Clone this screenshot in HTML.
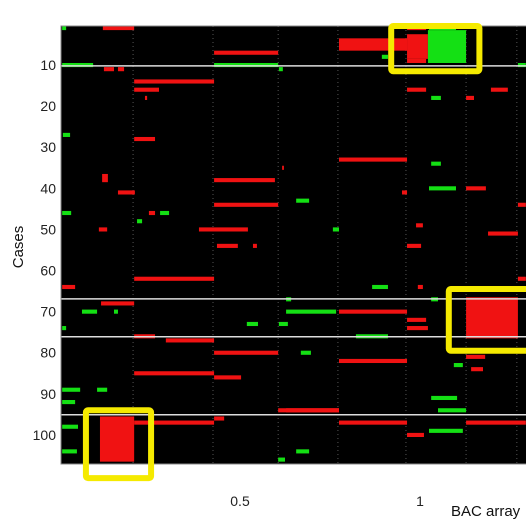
<!DOCTYPE html>
<html><head><meta charset="utf-8"><style>
html,body{margin:0;padding:0;background:#fff;width:526px;height:526px;overflow:hidden}
svg{display:block}
text{font-family:"Liberation Sans",sans-serif}
</style></head><body>
<svg id="chart" width="526" height="526" viewBox="0 0 526 526"></svg>
<script>
// data: segments (row start, row end, x start, x end in BAC-array units, color)
const rowStart = [1,1,7,10,10,11,11,11,14,16,18,27,28,35,37,38,41,44,46,46,46,48,50,50,54,54,
  1,1,4,3,2,8,9,10,16,16,18,18,33,34,40,40,41,43,44,50,49,51,54,
  62,64,68,70,70,73,73,74,76,77,80,85,86,89,89,92,94,96,96,97,98,104,106,
  64,64,67,67,70,70,67,62,72,74,76,80,82,83,84,81,91,94,94,97,97,100,99,104];
const rowEnd = [1,1,7,10,10,11,11,11,14,16,18,27,28,35,38,38,41,44,46,46,46,48,50,50,54,54,
  1,1,6,8,9,8,9,10,16,16,18,18,33,34,40,40,41,43,44,50,49,51,54,
  62,64,68,70,70,73,73,74,76,77,80,85,86,89,89,92,94,96,106,97,98,104,106,
  64,64,67,67,70,70,76,62,72,74,76,80,82,83,84,81,91,94,94,97,97,100,99,104];
const xStart = [0.006,0.119,0.428,0.006,0.428,0.608,0.122,0.161,0.206,0.206,0.236,0.008,0.206,0.617,0.117,0.428,0.161,0.428,0.006,0.247,0.278,0.214,0.108,0.386,0.436,0.536,
  0.964,1.025,0.775,0.964,1.022,0.894,0.964,1.272,0.964,1.197,1.031,1.128,0.775,1.031,1.025,1.128,0.950,0.656,1.272,0.758,0.989,1.189,0.964,
  0.206,0.006,0.114,0.061,0.150,0.519,0.608,0.006,0.206,0.294,0.428,0.206,0.428,0.006,0.103,0.006,0.606,0.428,0.111,0.206,0.006,0.006,0.606,
  0.867,0.994,0.628,1.031,0.628,0.775,1.128,1.272,0.964,0.964,0.822,0.669,0.775,1.094,1.142,1.128,1.031,1.050,0.628,0.775,1.128,0.964,1.025,0.656];
const xEnd = [0.017,0.206,0.606,0.092,0.606,0.619,0.150,0.178,0.428,0.275,0.242,0.028,0.264,0.622,0.133,0.597,0.208,0.606,0.031,0.264,0.303,0.228,0.131,0.522,0.494,0.547,
  1.017,1.100,0.964,1.022,1.128,0.911,1.017,1.294,1.017,1.244,1.058,1.150,0.964,1.058,1.100,1.183,0.964,0.692,1.294,0.775,1.008,1.272,1.003,
  0.428,0.042,0.206,0.103,0.161,0.550,0.633,0.017,0.264,0.428,0.606,0.428,0.503,0.056,0.131,0.042,0.775,0.456,0.206,0.428,0.050,0.047,0.625,
  0.911,1.008,0.642,1.050,0.767,0.964,1.272,1.294,1.017,1.022,0.911,0.697,0.964,1.119,1.175,1.181,1.103,1.128,0.775,0.964,1.294,1.011,1.119,0.692];
const segColor = ['g','r','r','g','g','g','r','r','r','r','r','g','r','r','r','r','r','r','g','r','g','g','r','r','r','r',
  'r','g','r','r','g','g','r','g','r','r','g','r','r','g','g','r','r','g','r','g','r','r','r',
  'r','r','r','g','g','g','g','g','r','r','r','r','r','g','g','g','r','r','r','r','g','g','g',
  'g','r','g','g','g','r','r','r','r','r','g','g','r','g','r','r','g','g','r','r','r','r','g','g'];
const xTicks = [0.5, 1];
const yTicks = [10,20,30,40,50,60,70,80,90,100];
const whiteLines = [9.7, 66.4, 75.6, 94.6];
const dividers = [0.203, 0.425, 0.606, 0.772, 0.961, 1.128, 1.269];
const boxes = [[1,0.92,12,1.165],[65,1.08,80,1.35],[94.5,0.072,111,0.253]];

const L=61,T=26,B=464,R=540, RH=4.11;
const xs = u => 60 + u*360;
const ys = c => T + (c-1)*RH;
const NS='http://www.w3.org/2000/svg';
const svg=document.getElementById('chart');
function mk(tag,attrs,parent){const e=document.createElementNS(NS,tag);for(const k in attrs)e.setAttribute(k,attrs[k]);(parent||svg).appendChild(e);return e;}
const clip=mk('clipPath',{id:'pc'});mk('rect',{x:L,y:T,width:R-L,height:B-T},clip);
const bg=mk('rect',{x:L,y:T,width:R-L,height:B-T,fill:'#000'});


const g=mk('g',{'clip-path':'url(#pc)'});


dividers.forEach(d=>{const l=mk('line',{x1:xs(d),x2:xs(d),y1:T,y2:B,stroke:'#555','stroke-width':1,'stroke-dasharray':'1,3'},g);

});
for(let i=0;i<rowStart.length;i++){
  const r=mk('rect',{x:xs(xStart[i]),y:ys(rowStart[i]),width:Math.max(1.5,xs(xEnd[i])-xs(xStart[i])),height:(rowEnd[i]-rowStart[i]+1)*RH,fill:segColor[i]==='r'?'#f01212':'#14e014'},g);
  
  
}
whiteLines.forEach(c=>{const l=mk('line',{x1:L,x2:R,y1:ys(c+1),y2:ys(c+1),stroke:'#ddd','stroke-width':1.5},g);

});
const fr=mk('rect',{x:L,y:T,width:R-L,height:B-T,fill:'none',stroke:'#888','stroke-width':1});


yTicks.forEach(v=>{const t=mk('text',{x:56,y:ys(v)+RH/2+5,'text-anchor':'end','font-size':14,fill:'#222'});t.textContent=v;

});
xTicks.forEach(v=>{const t=mk('text',{x:xs(v),y:506,'text-anchor':'middle','font-size':14,fill:'#222'});t.textContent=v;

});
const yt=mk('text',{x:0,y:0,transform:'translate(23,247) rotate(-90)','text-anchor':'middle','font-size':15,fill:'#111'});yt.textContent='Cases';


const xt=mk('text',{x:451,y:516,'font-size':15,fill:'#111'});xt.textContent='BAC array';


boxes.forEach(b=>{const r=mk('rect',{x:xs(b[1]),y:ys(b[0]),width:xs(b[3])-xs(b[1]),height:ys(b[2])-ys(b[0]),fill:'none',stroke:'#f5ea00','stroke-width':6,rx:2});

});
</script>
</body></html>
